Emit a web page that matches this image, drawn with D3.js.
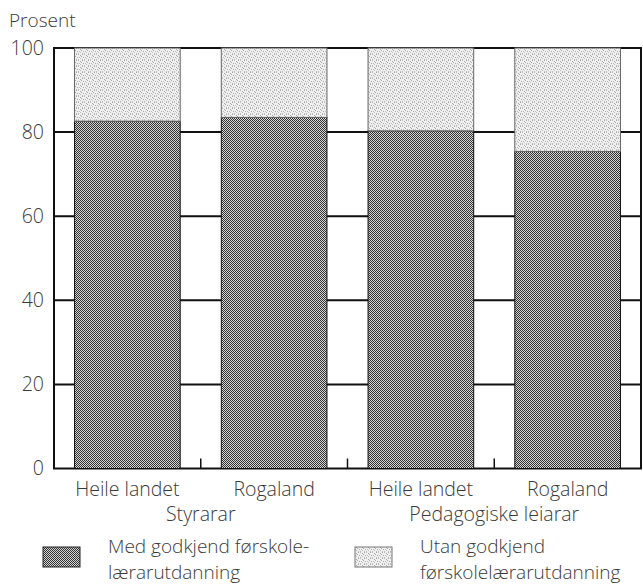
<!DOCTYPE html>
<html>
  <head>
    <style>
      body { margin: 0; background: #fff; }
      text { font-family: 'Open Sans', 'Noto Sans', sans-serif; font-weight: 300; fill: #3a3a3a; }
    </style>
    <script src="https://d3js.org/d3.v7.min.js"></script>
  </head>
  <body>
    <svg id="chart" width="643" height="585"></svg>
    <script>
      // data
      var categories = ['Heile landet', 'Rogaland', 'Heile landet ', 'Rogaland '];
      var groups = ['Styrarar', 'Pedagogiske leiarar'];
      var withEdu = [82.6, 83.5, 80.3, 75.4];
      var withoutEdu = withEdu.map((v) => 100 - v);
      var yTicks = [0, 20, 40, 60, 80, 100];
      var legendLabels = [
        ['Med godkjend førskole-', 'lærarutdanning'],
        ['Utan godkjend', 'førskolelærarutdanning'],
      ];

      var svg = d3.select('#chart'),
        margin = { top: 48, left: 54, bottom: 116, right: 1 },
        width = +svg.attr('width'),
        height = +svg.attr('height');

      var defs = svg.append('defs');
      var dark = defs.append('pattern').attr('id', 'dark')
        .attr('patternUnits', 'userSpaceOnUse').attr('width', 2).attr('height', 2);
      dark.append('rect').attr('width', 2).attr('height', 2).attr('fill', '#d4d4d4');
      dark.append('rect').attr('width', 1).attr('height', 1).attr('fill', '#333');
      dark.append('rect').attr('x', 1).attr('y', 1).attr('width', 1).attr('height', 1).attr('fill', '#333');

      // sparse stipple for the light part
      var dots = [[0, 0], [2, 1], [1, 3], [3, 2], [2, 4], [4, 0], [0, 5], [5, 3], [4, 5]];
      var light = defs.append('pattern').attr('id', 'light')
        .attr('patternUnits', 'userSpaceOnUse').attr('width', 6).attr('height', 6);
      light.append('rect').attr('width', 6).attr('height', 6).attr('fill', '#f0f0f0');
      light.selectAll('rect.dot')
        .data(dots)
        .join('rect')
        .attr('class', 'dot')
        .attr('x', (d) => d[0]).attr('y', (d) => d[1])
        .attr('width', 1).attr('height', 1)
        .attr('fill', (d, i) => (i % 2 ? '#a8a8a8' : '#bcbcbc'));

      var x = d3.scaleBand()
        .domain(categories)
        .range([margin.left, width - margin.right - 1])
        .paddingInner(0.28)
        .paddingOuter(0.14);

      var y = d3.scaleLinear()
        .domain([0, 100])
        .range([height - margin.bottom - 0.5, margin.top]);

      // gridlines behind the bars
      svg.append('g')
        .selectAll('line')
        .data(yTicks.slice(1, -1))
        .join('line')
        .attr('x1', x.range()[0])
        .attr('x2', x.range()[1])
        .attr('y1', (d) => y(d))
        .attr('y2', (d) => y(d))
        .attr('stroke', '#111')
        .attr('stroke-width', 2);

      // frame
      svg.append('rect')
        .attr('x', x.range()[0])
        .attr('y', y(100))
        .attr('width', x.range()[1] - x.range()[0])
        .attr('height', y(0) - y(100))
        .attr('fill', 'none')
        .attr('stroke', '#111')
        .attr('stroke-width', 2);

      // small ticks between bars
      svg.append('g')
        .selectAll('line')
        .data(categories.slice(1))
        .join('line')
        .attr('x1', (d) => x(d) - (x.step() - x.bandwidth()) / 2)
        .attr('x2', (d) => x(d) - (x.step() - x.bandwidth()) / 2)
        .attr('y1', y(0))
        .attr('y2', y(0) - 10)
        .attr('stroke', '#111')
        .attr('stroke-width', 1.5);

      var bars = svg.append('g');
      bars.selectAll('rect.lower')
        .data(categories)
        .join('rect')
        .attr('class', 'lower')
        .attr('x', (d) => x(d))
        .attr('width', x.bandwidth())
        .attr('y', (d, i) => y(withEdu[i]))
        .attr('height', (d, i) => y(0) - y(withEdu[i]))
        .attr('fill', 'url(#dark)')
        .attr('stroke', '#111')
        .attr('stroke-width', 1);
      bars.selectAll('rect.upper')
        .data(categories)
        .join('rect')
        .attr('class', 'upper')
        .attr('x', (d) => x(d))
        .attr('width', x.bandwidth())
        .attr('y', (d, i) => y(withEdu[i] + withoutEdu[i]))
        .attr('height', (d, i) => y(withEdu[i]) - y(withEdu[i] + withoutEdu[i]))
        .attr('fill', 'url(#light)')
        .attr('stroke', '#666')
        .attr('stroke-width', 1);

      // y axis labels
      svg.append('g')
        .selectAll('text')
        .data(yTicks)
        .join('text')
        .attr('x', 44)
        .attr('y', (d) => y(d))
        .attr('dy', '0.35em')
        .attr('text-anchor', 'end')
        .style('font-size', '19.5px')
        .text((d) => d);

      svg.append('text')
        .attr('x', 9)
        .attr('y', 27)
        .style('font-size', '19px')
        .text('Prosent');

      // category labels
      svg.append('g')
        .selectAll('text')
        .data(categories)
        .join('text')
        .attr('x', (d) => x(d) + x.bandwidth() / 2)
        .attr('y', 496)
        .attr('text-anchor', 'middle')
        .style('font-size', '19.5px')
        .text((d) => d.trim());

      svg.append('g')
        .selectAll('text')
        .data(groups)
        .join('text')
        .attr('x', (d, i) => (x(categories[2 * i]) + x(categories[2 * i + 1]) + x.bandwidth()) / 2)
        .attr('y', 521)
        .attr('text-anchor', 'middle')
        .style('font-size', '19.5px')
        .text((d) => d);

      // legend
      var legend = svg.append('g');
      var lx = [43, 355], tx = [108, 420];
      ['url(#dark)', 'url(#light)'].forEach(function (f, i) {
        legend.append('rect')
          .attr('x', lx[i]).attr('y', 547)
          .attr('width', 37).attr('height', 20)
          .attr('fill', f)
          .attr('stroke', i ? '#777' : '#222')
          .attr('stroke-width', 1);
        legend.append('text')
          .attr('x', tx[i]).attr('y', 553)
          .style('font-size', '19px')
          .selectAll('tspan')
          .data(legendLabels[i])
          .join('tspan')
          .attr('x', tx[i])
          .attr('dy', (d, j) => (j ? 26 : 0))
          .text((d) => d);
      });
    </script>
  </body>
</html>
